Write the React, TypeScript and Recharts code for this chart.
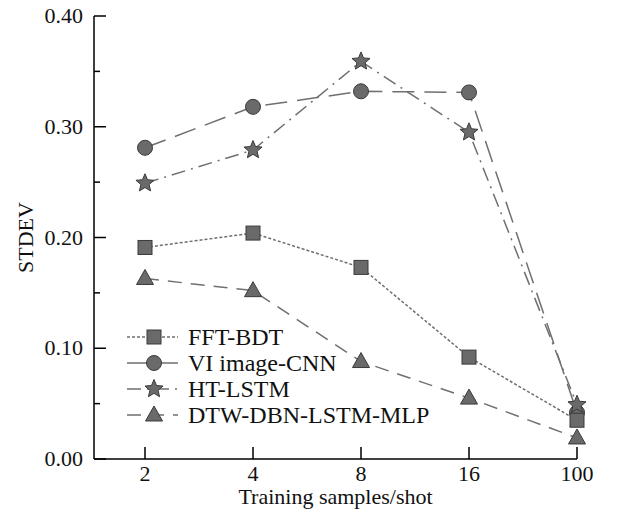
import { LineChart, Line, XAxis, YAxis, Legend } from "recharts";

const shots = ["2", "4", "8", "16", "100"];
const fftBdt = [0.191, 0.204, 0.173, 0.092, 0.035];
const viCnn = [0.281, 0.318, 0.332, 0.331, 0.042];
const htLstm = [0.249, 0.279, 0.359, 0.295, 0.049];
const dtwMlp = [0.163, 0.152, 0.088, 0.055, 0.019];
const yTicks = [0, 0.05, 0.1, 0.15, 0.2, 0.25, 0.3, 0.35, 0.4];

const chartData = shots.map((shot, i) => ({
  shot,
  fft: fftBdt[i],
  vi: viCnn[i],
  ht: htLstm[i],
  dtw: dtwMlp[i],
}));

const FONT = "Liberation Serif, Times New Roman, serif";
const LINE = "#6f6f6f";
const FILL = "#6a6a6a";
const EDGE = "#3a3a3a";

type Shape = "square" | "circle" | "star" | "triangle";

const series: { key: string; name: string; shape: Shape; dash: string }[] = [
  { key: "fft", name: "FFT-BDT", shape: "square", dash: "3 2" },
  { key: "vi", name: "VI image-CNN", shape: "circle", dash: "22 10" },
  { key: "ht", name: "HT-LSTM", shape: "star", dash: "14 6 2 6" },
  { key: "dtw", name: "DTW-DBN-LSTM-MLP", shape: "triangle", dash: "14 9" },
];

// circles go underneath, the way the reference stacks them at 100
const drawOrder = ["vi", "dtw", "fft", "ht"];

function Marker({ cx, cy, shape }: { cx: number; cy: number; shape: Shape }) {
  if (cx == null || cy == null) return null;
  const common = { fill: FILL, stroke: EDGE, strokeWidth: 1 };
  if (shape === "square") {
    return <rect x={cx - 7} y={cy - 7} width={14} height={14} {...common} />;
  }
  if (shape === "circle") {
    return <circle cx={cx} cy={cy} r={7.5} {...common} />;
  }
  if (shape === "triangle") {
    const pts = `${cx},${cy - 9} ${cx + 8.5},${cy + 6} ${cx - 8.5},${cy + 6}`;
    return <polygon points={pts} {...common} />;
  }
  const pts: string[] = [];
  for (let k = 0; k < 10; k++) {
    const r = k % 2 === 0 ? 9.5 : 4.3;
    const a = -Math.PI / 2 + (k * Math.PI) / 5;
    pts.push(`${cx + r * Math.cos(a)},${cy + r * Math.sin(a)}`);
  }
  return <polygon points={pts.join(" ")} {...common} />;
}

function YTick({ x, y, payload }: any) {
  const major = Math.round(payload.value * 100) % 10 === 0;
  return (
    <g>
      <line x1={x} x2={x + (major ? 12 : 6)} y1={y} y2={y} stroke="#000" strokeWidth={1.5} />
      {major && (
        <text x={x - 11} y={y} dy={7} textAnchor="end" style={{ fontFamily: FONT }} fontSize={22} fill="#111">
          {payload.value.toFixed(2)}
        </text>
      )}
    </g>
  );
}

function XTick({ x, y, payload }: any) {
  return (
    <g>
      <line x1={x} x2={x} y1={y} y2={y - 12} stroke="#000" strokeWidth={1.5} />
      <text x={x} y={y + 22} textAnchor="middle" style={{ fontFamily: FONT }} fontSize={22} fill="#111">
        {payload.value}
      </text>
    </g>
  );
}

function YLabel({ viewBox }: any) {
  const cy = viewBox.y + viewBox.height / 2;
  return (
    <text
      x={viewBox.x + 25}
      y={cy}
      dy={8}
      transform={`rotate(-90 ${viewBox.x + 25} ${cy})`}
      textAnchor="middle"
      style={{ fontFamily: FONT }}
      fontSize={22}
      fill="#111"
    >
      STDEV
    </text>
  );
}

function LegendBox() {
  return (
    <div style={{ fontFamily: FONT, fontSize: 24, color: "#111" }}>
      {series.map((s) => (
        <div key={s.key} style={{ display: "flex", alignItems: "center", height: 26 }}>
          <svg width={64} height={26}>
            <line x1={3} x2={54} y1={13} y2={13} stroke={LINE} strokeWidth={1.5} strokeDasharray={s.dash} />
            <Marker cx={30} cy={13} shape={s.shape} />
          </svg>
          <span style={{ lineHeight: "26px" }}>{s.name}</span>
        </div>
      ))}
    </div>
  );
}

export default function App() {
  const ordered = drawOrder.map((k) => series.find((s) => s.key === k)!);
  return (
    <div style={{ position: "absolute", left: 0, top: 0, width: 625, height: 523, background: "#fff", fontFamily: FONT }}>
      <LineChart width={625} height={523} data={chartData} margin={{ top: 16, right: 48, bottom: 0, left: 0 }}>
        <XAxis
          dataKey="shot"
          padding={{ left: 51, right: 0 }}
          height={64}
          tickLine={false}
          tickSize={0}
          tickMargin={0}
          tick={<XTick />}
          axisLine={{ stroke: "#000", strokeWidth: 1.5 }}
          label={{ value: "Training samples/shot", position: "insideBottom", offset: 19, style: { fontFamily: FONT }, fontSize: 22, fill: "#111" }}
        />
        <YAxis
          width={94}
          domain={[0, 0.4]}
          ticks={yTicks}
          interval={0}
          tickLine={false}
          tickSize={0}
          tickMargin={0}
          tick={<YTick />}
          axisLine={{ stroke: "#000", strokeWidth: 1.5 }}
          label={<YLabel />}
        />
        <Legend
          content={<LegendBox />}
          layout="vertical"
          align="center"
          verticalAlign="middle"
          wrapperStyle={{ left: 124, top: 324, width: 340 }}
        />
        {ordered.map((s) => (
          <Line
            key={s.key}
            dataKey={s.key}
            name={s.name}
            type="linear"
            stroke={LINE}
            strokeWidth={1.5}
            strokeDasharray={s.dash}
            dot={(p: any) => <Marker key={`${s.key}-${p.index}`} cx={p.cx} cy={p.cy} shape={s.shape} />}
            activeDot={false}
            isAnimationActive={false}
          />
        ))}
      </LineChart>
    </div>
  );
}
